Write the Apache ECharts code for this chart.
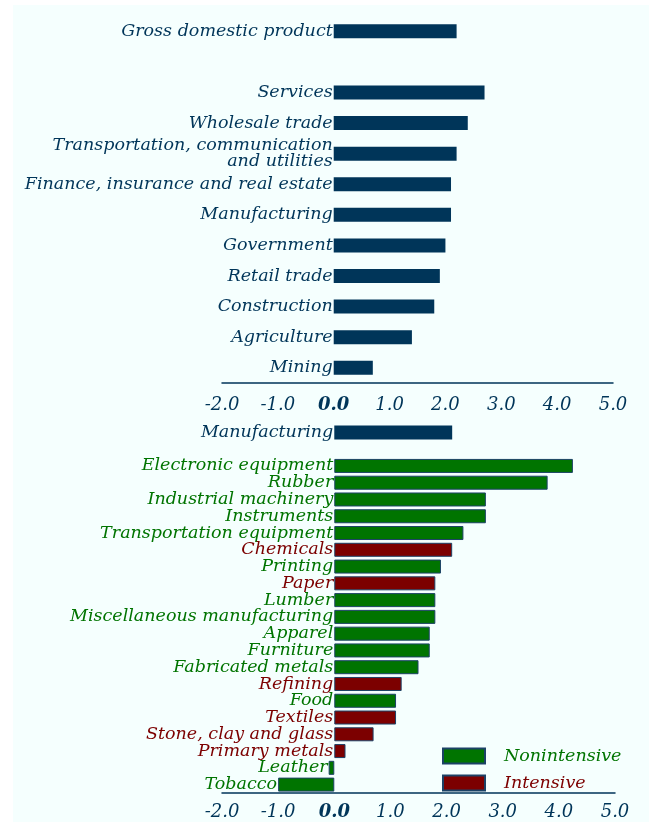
<!DOCTYPE html>
<html>
<head>
<meta charset="utf-8">
<script src="https://cdn.jsdelivr.net/npm/echarts@6/dist/echarts.min.js"></script>
<style>
html, body { margin: 0; padding: 0; background: #ffffff; }
#chart { position: absolute; left: 13px; top: 5px; width: 636px; height: 817px; }
</style>
</head>
<body>
<div id="chart"></div>
<script>
// top panel: GDP and industries (blank slot after GDP)
var topCategories = ['Gross domestic product', '', 'Services', 'Wholesale trade',
  'Transportation, communication\nand utilities', 'Finance, insurance and real estate',
  'Manufacturing', 'Government', 'Retail trade', 'Construction', 'Agriculture', 'Mining'];
var topValues = [2.2, null, 2.7, 2.4, 2.2, 2.1, 2.1, 2.0, 1.9, 1.8, 1.4, 0.7];

// bottom panel: manufacturing industries
var bottomCategories = ['Manufacturing', '', 'Electronic equipment', 'Rubber', 'Industrial machinery',
  'Instruments', 'Transportation equipment', 'Chemicals', 'Printing', 'Paper', 'Lumber',
  'Miscellaneous manufacturing', 'Apparel', 'Furniture', 'Fabricated metals', 'Refining', 'Food',
  'Textiles', 'Stone, clay and glass', 'Primary metals', 'Leather', 'Tobacco'];
var bottomValues = [2.1, null, 4.25, 3.8, 2.7, 2.7, 2.3, 2.1, 1.9, 1.8, 1.8, 1.8, 1.7, 1.7, 1.5,
  1.2, 1.1, 1.1, 0.7, 0.2, -0.1, -1.0];
// T = total, N = nonintensive, I = intensive
var bottomTypes = ['T', '', 'N', 'N', 'N', 'N', 'N', 'I', 'N', 'I', 'N', 'N', 'N', 'N', 'N',
  'I', 'N', 'I', 'I', 'I', 'N', 'N'];

var xTicks = [-2, -1, 0, 1, 2, 3, 4, 5];

var navy = '#003559';
var green = '#007400';
var red = '#7c0000';
var edge = '#1c4266';
var font = 'DejaVu Serif';

function pick(type) {
  return bottomValues.map(function (v, i) { return bottomTypes[i] === type ? v : null; });
}

function xAxisFor(gridIndex, margin) {
  return {
    type: 'value', gridIndex: gridIndex,
    min: xTicks[0], max: xTicks[xTicks.length - 1], interval: 1,
    axisLine: { show: true, onZero: false, lineStyle: { color: navy, width: 1.5 } },
    axisTick: { show: false },
    splitLine: { show: false },
    axisLabel: {
      margin: margin,
      fontFamily: font, fontStyle: 'italic', fontSize: 18, color: navy,
      formatter: function (v) { return v === 0 ? '{z|0.0}' : v.toFixed(1); },
      rich: { z: { fontFamily: font, fontStyle: 'italic', fontWeight: 'bold', fontSize: 18, color: navy } }
    }
  };
}

function yAxisFor(gridIndex, cats) {
  return {
    type: 'category', gridIndex: gridIndex, data: cats, inverse: true,
    axisLine: { show: false },
    axisTick: { show: false },
    splitLine: { show: false },
    axisLabel: { show: false }
  };
}

// category name written just left of each bar
function nameLabel(color) {
  return {
    show: true, position: 'left', distance: 1,
    formatter: '{b}',
    fontFamily: font, fontStyle: 'italic', fontSize: 17.5, lineHeight: 16,
    align: 'right', color: color
  };
}

var chart = echarts.init(document.getElementById('chart'));
chart.setOption({
  backgroundColor: '#f5fffe',
  animation: false,
  grid: [
    { left: 209, top: 11, width: 391, height: 367, outerBoundsMode: 'none' },
    { left: 209, top: 419, width: 393, height: 369, outerBoundsMode: 'none' }
  ],
  xAxis: [xAxisFor(0, 13), xAxisFor(1, 10)],
  yAxis: [yAxisFor(0, topCategories), yAxisFor(1, bottomCategories)],
  legend: {
    orient: 'vertical', left: 429, top: 742, padding: 0,
    itemWidth: 42, itemHeight: 15, itemGap: 9,
    icon: 'rect',
    textStyle: { fontFamily: font, fontStyle: 'italic', fontSize: 17.5, padding: [0, 0, 0, 14] },
    data: [
      { name: 'Nonintensive', textStyle: { color: green } },
      { name: 'Intensive', textStyle: { color: red } }
    ]
  },
  series: [
    {
      name: 'All', type: 'bar', xAxisIndex: 0, yAxisIndex: 0,
      data: topValues, barWidth: 14,
      itemStyle: { color: navy },
      label: nameLabel(navy)
    },
    {
      name: 'Manufacturing', type: 'bar', xAxisIndex: 1, yAxisIndex: 1,
      data: pick('T'), barWidth: 14, barGap: '-100%',
      itemStyle: { color: navy },
      label: nameLabel(navy)
    },
    {
      name: 'Nonintensive', type: 'bar', xAxisIndex: 1, yAxisIndex: 1,
      data: pick('N'), barWidth: 14, barGap: '-100%',
      itemStyle: { color: green, borderColor: edge, borderWidth: 1 },
      label: nameLabel(green)
    },
    {
      name: 'Intensive', type: 'bar', xAxisIndex: 1, yAxisIndex: 1,
      data: pick('I'), barWidth: 14, barGap: '-100%',
      itemStyle: { color: red, borderColor: edge, borderWidth: 1 },
      label: nameLabel(red)
    }
  ]
});
</script>
</body>
</html>
